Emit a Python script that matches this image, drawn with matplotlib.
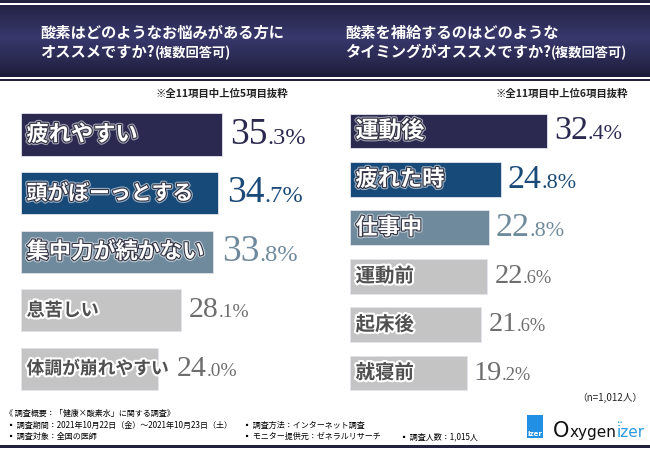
import numpy as np
import matplotlib
matplotlib.use('Agg')
import matplotlib.pyplot as plt
import matplotlib.patheffects as pe
from matplotlib.patches import Rectangle
from matplotlib.offsetbox import TextArea, HPacker, AnnotationBbox

plt.rcParams['font.family'] = ['Noto Sans CJK JP', 'DejaVu Sans']

# data
left_labels = ['疲れやすい', '頭がぼーっとする', '集中力が続かない', '息苦しい', '体調が崩れやすい']
left_values = [35.3, 34.7, 33.8, 28.1, 24.0]
right_labels = ['運動後', '疲れた時', '仕事中', '運動前', '起床後', '就寝前']
right_values = [32.4, 24.8, 22.8, 22.6, 21.6, 19.2]

left_title = ['酸素はどのようなお悩みがある方に', 'オススメですか?']
right_title = ['酸素を補給するのはどのような', 'タイミングがオススメですか?']
title_suffix = '(複数回答可)'
left_note = '※全11項目中上位5項目抜粋'
right_note = '※全11項目中上位6項目抜粋'
n_note = '（n=1,012人）'

bar_colors = ['#2b2950', '#174a78', '#6f8a9c']
num_colors = ['#2b2950', '#1a4a78', '#6f8a9c']
gray_bar = '#c4c4c4'
gray_num = '#6e6e6e'
navy = '#22213f'

fig = plt.figure(figsize=(6.5, 4.5), dpi=100)
renderer = fig.canvas.get_renderer()

# background layer in pixel coords
bg = fig.add_axes([0, 0, 1, 1], zorder=0)
t = np.linspace(0, 1, 72)
c_edge = np.array([0x1b, 0x1a, 0x35]) / 255
c_mid = np.array([0x38, 0x38, 0x6c]) / 255
w = np.clip(1 - np.abs(t - 0.45) / 0.55, 0, 1) ** 0.8
grad = c_edge + (c_mid - c_edge) * w[:, None]
img = np.repeat(grad[:, None, :], 2, axis=1)
bg.imshow(img, extent=(0, 650, 77, 5), aspect='auto', interpolation='bilinear')
bg.add_patch(Rectangle((0, 0), 650, 2.5, color=navy, lw=0))
bg.add_patch(Rectangle((0, 78.5), 650, 2.5, color=navy, lw=0))
bg.add_patch(Rectangle((0, 445), 650, 3, color=navy, lw=0))
bg.set_xlim(0, 650)
bg.set_ylim(450, 0)
bg.axis('off')

# titles
for x0, lines in [(40, left_title), (345, right_title)]:
    bg.text(x0, 38, lines[0], color='white', fontsize=11, fontweight='bold', va='baseline')
    t2 = bg.text(x0, 57, lines[1], color='white', fontsize=11, fontweight='bold', va='baseline')
    bg.annotate(title_suffix, xy=(1, 0), xycoords=t2, color='white', fontsize=9.5,
                fontweight='bold', va='bottom', ha='left')

bg.text(288, 97, left_note, fontsize=7.5, fontweight='bold', ha='right', va='baseline', color='#222222')
bg.text(628, 97, right_note, fontsize=7.5, fontweight='bold', ha='right', va='baseline', color='#222222')
bg.text(642, 401, n_note, fontsize=7, ha='right', va='baseline', color='#222222')

# footer
fs = 5.8
bg.text(5, 416, '《 調査概要：「健康×酸素水」に関する調査》', fontsize=fs, va='baseline')
bg.text(7, 428, '▪ 調査期間：2021年10月22日（金）～2021年10月23日（土）', fontsize=fs, va='baseline')
bg.text(243, 428, '▪ 調査方法：インターネット調査', fontsize=fs, va='baseline')
bg.text(7, 439, '▪ 調査対象：全国の医師', fontsize=fs, va='baseline')
bg.text(243, 439, '▪ モニター提供元：ゼネラルリサーチ', fontsize=fs, va='baseline')
bg.text(400, 439, '▪ 調査人数：1,015人', fontsize=fs, va='baseline')

# logo
bg.add_patch(Rectangle((527, 415), 16, 23, color='#2190e4', lw=0))
bg.text(535, 436, 'izer', color='white', fontsize=5, fontweight='bold', ha='center',
        va='baseline', family='DejaVu Sans')
bg.text(569, 437, 'O', fontsize=15, family='DejaVu Sans', color='#111111', va='baseline', ha='right')
bg.text(570, 437, 'xygen', fontsize=11, family='DejaVu Sans', color='#111111', va='baseline', ha='left')
iz = bg.text(617, 437, 'izer', fontsize=11, family='DejaVu Sans', color='#2a9ae0', va='baseline', ha='left')
bg.annotate('••', xy=(0.1, 1), xycoords=iz, fontsize=4, ha='center', va='bottom',
            family='DejaVu Sans', color='#2a9ae0')


def panel(x0, x1, top, bottom, scale, labels, values, lab_sizes, big_col, big_gray, offs):
    ax = fig.add_axes([x0 / 650, 1 - bottom / 450, (x1 - x0) / 650, (bottom - top) / 450], zorder=1)
    ax.patch.set_alpha(0)
    n = len(values)
    y = np.arange(n)
    cols = [bar_colors[i] if i < 3 else gray_bar for i in range(n)]
    ax.barh(y, values, height=0.72, color=cols, edgecolor='#e4e4ec', linewidth=0.6)
    ax.set_xlim(0, (x1 - x0) / scale)
    ax.set_ylim(n - 0.5, -0.5)
    ax.axis('off')
    for i, (lab, v) in enumerate(zip(labels, values)):
        if i < 3:
            eff = [pe.Stroke(linewidth=3.2, foreground='#ffffff', alpha=0.55),
                   pe.Stroke(linewidth=1.6, foreground='#333344'), pe.Normal()]
            tc = 'white'
        else:
            eff = [pe.Stroke(linewidth=3, foreground='white'), pe.Normal()]
            tc = '#505050'
        lt = ax.annotate(lab, xy=(0, i), xytext=(4, 0), textcoords='offset points', va='center',
                         ha='left', fontsize=lab_sizes[i], fontweight='bold', color=tc,
                         path_effects=eff)
        # value placed after the bar, or after the label if the label runs past the bar
        lab_end = ax.transData.inverted().transform((lt.get_window_extent(renderer).x1, 0))[0]
        xpos = max(v, lab_end)
        fsb = big_col if i < 3 else big_gray
        fss = fsb * 0.65
        nc = num_colors[i] if i < 3 else gray_num
        whole, dec = ('%.1f' % v).split('.')
        box = HPacker(children=[TextArea(whole, textprops=dict(fontsize=fsb, family='Liberation Serif', color=nc)),
                                TextArea('.' + dec + '%', textprops=dict(fontsize=fss, family='Liberation Serif', color=nc))],
                      align='baseline', pad=0, sep=0)
        ax.add_artist(AnnotationBbox(box, (xpos, i), xycoords='data', xybox=(offs, 0),
                                     boxcoords='offset points', box_alignment=(0, 0.5),
                                     frameon=False, pad=0))
    return ax


panel(21, 325, 105.2, 398.3, 5.69, left_labels, left_values,
      [16, 15, 16, 13, 12.8], 27, 21.5, 6)
panel(350, 650, 106.8, 397.2, 6.08, right_labels, right_values,
      [16.5, 16, 16, 14, 14, 14], 24.5, 20.5, 5)

fig.savefig('out.png', dpi=100)
